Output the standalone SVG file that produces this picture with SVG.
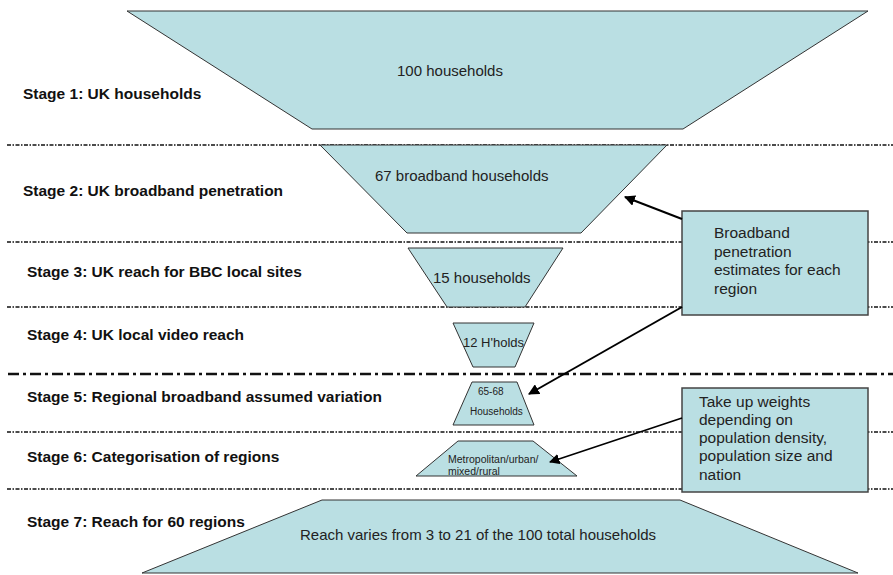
<svg xmlns="http://www.w3.org/2000/svg" width="893" height="575" viewBox="0 0 893 575">
  <defs>
    <style>
      .stage { font-family: "Liberation Sans", Arial, sans-serif; font-size: 15.5px; font-weight: bold; fill: #111; }
      .lbl { font-family: "Liberation Sans", Arial, sans-serif; font-size: 15px; fill: #222; }
      .sm { font-family: "Liberation Sans", Arial, sans-serif; font-size: 10px; fill: #222; }
      .note { font-family: "Liberation Sans", Arial, sans-serif; font-size: 15.5px; fill: #222; }
      .funnel { fill: #BADFE3; stroke: #333; stroke-width: 1; }
      .box { fill: #BADFE3; stroke: #444; stroke-width: 1.5; }
      .sep { stroke: #111; stroke-width: 1.6; stroke-dasharray: 4 1.5 1.5 1.5; fill: none; }
      .sep-long { stroke: #111; stroke-width: 2.5; stroke-dasharray: 11 4 3 4; fill: none; }
      .arrow { stroke: #000; stroke-width: 2; fill: none; marker-end: url(#head); }
      .arrow-thin { stroke: #000; stroke-width: 1.5; fill: none; marker-end: url(#head-lg); }
    </style>
    <marker id="head" viewBox="0 0 10 10" refX="9" refY="5" markerWidth="5.5" markerHeight="5.5" orient="auto" markerUnits="strokeWidth">
      <path d="M0,0 L10,5 L0,10 z" fill="#000"/>
    </marker>
    <marker id="head-lg" viewBox="0 0 10 10" refX="9" refY="5" markerWidth="7" markerHeight="7" orient="auto" markerUnits="strokeWidth">
      <path d="M0,0 L10,5 L0,10 z" fill="#000"/>
    </marker>
  </defs>

  <rect width="893" height="575" fill="#fff"/>

  <!-- stage separators -->
  <g id="separators">
    <line class="sep" x1="7" y1="145" x2="893" y2="145"/>
    <line class="sep" x1="7" y1="242" x2="893" y2="242"/>
    <line class="sep" x1="7" y1="307" x2="893" y2="307"/>
    <line class="sep-long" x1="8" y1="374" x2="893" y2="374"/>
    <line class="sep" x1="7" y1="432" x2="893" y2="432"/>
    <line class="sep" x1="7" y1="489" x2="893" y2="489"/>
  </g>

  <!-- stage labels -->
  <g id="stage-labels">
    <text class="stage" x="23" y="99">Stage 1: UK households</text>
    <text class="stage" x="23" y="196">Stage 2: UK broadband penetration</text>
    <text class="stage" x="27" y="277">Stage 3: UK reach for BBC local sites</text>
    <text class="stage" x="27" y="340">Stage 4: UK local video reach</text>
    <text class="stage" x="27" y="402">Stage 5: Regional broadband assumed variation</text>
    <text class="stage" x="27" y="462">Stage 6: Categorisation of regions</text>
    <text class="stage" x="27" y="527">Stage 7: Reach for 60 regions</text>
  </g>

  <!-- funnel stages -->
  <g id="stage1">
    <polygon class="funnel" points="127,11 868,11 683,129 312,129"/>
    <text class="lbl" x="397" y="76">100 households</text>
  </g>
  <g id="stage2">
    <polygon class="funnel" points="320,145 667,145 581,233 407,233"/>
    <text class="lbl" x="375" y="181">67 broadband households</text>
  </g>
  <g id="stage3">
    <polygon class="funnel" points="408,248 563,248 525,307 447,307"/>
    <text class="lbl" x="433" y="283">15 households</text>
  </g>
  <g id="stage4">
    <polygon class="funnel" points="453,323 534,323 515,367 473,367"/>
    <text class="lbl" x="463" y="347" style="font-size:13px">12 H'holds</text>
  </g>
  <g id="stage5">
    <polygon class="funnel" points="472,382 517,382 534,425 453,425"/>
    <text class="sm" x="478" y="395">65-68</text>
    <text class="sm" x="470" y="415">Households</text>
  </g>
  <g id="stage6">
    <polygon class="funnel" points="458,441 533,441 577,476 416,476"/>
    <text class="sm" x="448" y="463" style="font-size:10.5px">Metropolitan/urban/</text>
    <text class="sm" x="448" y="475" style="font-size:10.5px">mixed/rural</text>
  </g>
  <g id="stage7">
    <polygon class="funnel" points="322,500 680,500 858,573 142,573"/>
    <text class="lbl" x="300" y="540">Reach varies from 3 to 21 of the 100 total households</text>
  </g>

  <!-- annotation boxes -->
  <g id="note-broadband">
    <rect class="box" x="682" y="211" width="186" height="104"/>
    <text class="note" x="714" y="238">Broadband</text>
    <text class="note" x="714" y="257">penetration</text>
    <text class="note" x="714" y="275">estimates for each</text>
    <text class="note" x="714" y="294">region</text>
  </g>
  <g id="note-takeup">
    <rect class="box" x="682" y="388" width="186" height="104"/>
    <text class="note" x="699" y="407">Take up weights</text>
    <text class="note" x="699" y="425">depending on</text>
    <text class="note" x="699" y="443">population density,</text>
    <text class="note" x="699" y="461">population size and</text>
    <text class="note" x="699" y="480">nation</text>
  </g>

  <!-- connectors -->
  <g id="connectors">
    <line class="arrow" x1="682" y1="219" x2="625" y2="197"/>
    <line class="arrow" x1="682" y1="307" x2="529" y2="394"/>
    <line class="arrow-thin" x1="682" y1="418" x2="550" y2="462"/>
  </g>
</svg>
